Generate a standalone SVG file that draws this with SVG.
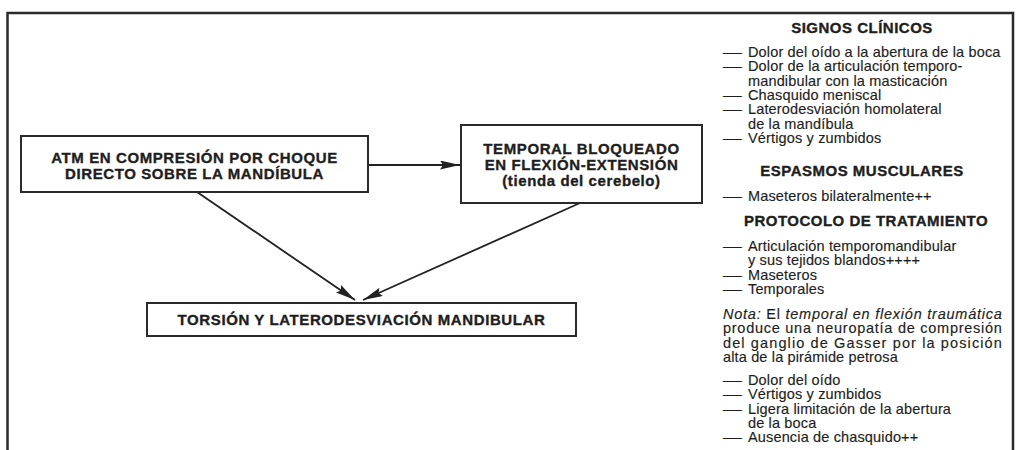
<svg xmlns="http://www.w3.org/2000/svg" width="1020" height="450" viewBox="0 0 1020 450">
<defs>
<style>
.frame{fill:none;stroke:#2a2a2a;stroke-width:2.5}
.box{fill:#fff;stroke:#2a2a2a;stroke-width:2}
.edge{fill:none;stroke:#222;stroke-width:1.8}
.nt{font-family:"Liberation Sans",Arial,Helvetica,sans-serif;font-weight:bold;font-size:15px;letter-spacing:0.6px;fill:#1e1e1e;stroke:#1e1e1e;stroke-width:0.35px;text-anchor:middle}
.hd{font-family:"Liberation Sans",Arial,Helvetica,sans-serif;font-weight:bold;font-size:15px;letter-spacing:0.5px;fill:#1e1e1e;stroke:#1e1e1e;stroke-width:0.35px;text-anchor:middle}
.tx{font-family:"Liberation Sans",Arial,Helvetica,sans-serif;font-size:14.5px;letter-spacing:0.15px;fill:#1e1e1e;stroke:#1e1e1e;stroke-width:0.15px}
.it{font-style:italic}
</style>
<marker id="ah" markerUnits="userSpaceOnUse" markerWidth="22" markerHeight="10" refX="20" refY="4.5" orient="auto">
<path d="M0,0 L20,4.5 L0,9 L3,4.5 Z" fill="#222"/>
</marker>
</defs>
<rect width="1020" height="450" fill="#fff"/>
<path class="frame" d="M7.5,452 V13 H1013 V452"/>

<g id="connectors">
<line class="edge" x1="368" y1="165" x2="460" y2="165" marker-end="url(#ah)"/>
<line class="edge" x1="197" y1="192" x2="355" y2="300" marker-end="url(#ah)"/>
<line class="edge" x1="580" y1="203" x2="363" y2="300" marker-end="url(#ah)"/>
</g>

<g id="node-atm">
<rect class="box" x="21" y="136" width="347" height="56"/>
<text class="nt" x="194.5" y="163">ATM EN COMPRESIÓN POR CHOQUE</text>
<text class="nt" x="194.5" y="179">DIRECTO SOBRE LA MANDÍBULA</text>
</g>

<g id="node-temporal">
<rect class="box" x="461" y="125" width="241" height="78"/>
<text class="nt" x="581.5" y="154">TEMPORAL BLOQUEADO</text>
<text class="nt" x="581.5" y="170">EN FLEXIÓN-EXTENSIÓN</text>
<text class="nt" x="581.5" y="186">(tienda del cerebelo)</text>
</g>

<g id="node-torsion">
<rect class="box" x="147" y="303" width="429" height="33"/>
<text class="nt" x="361.5" y="325">TORSIÓN Y LATERODESVIACIÓN MANDIBULAR</text>
</g>

<g id="side-text">
<text class="hd" x="862" y="33">SIGNOS CLÍNICOS</text>
<text class="tx" x="723" y="57" textLength="19" lengthAdjust="spacingAndGlyphs">—</text><text class="tx" x="748" y="57">Dolor del oído a la abertura de la boca</text>
<text class="tx" x="723" y="71.3" textLength="19" lengthAdjust="spacingAndGlyphs">—</text><text class="tx" x="748" y="71.3">Dolor de la articulación temporo-</text>
<text class="tx" x="748" y="85.6">mandibular con la masticación</text>
<text class="tx" x="723" y="99.9" textLength="19" lengthAdjust="spacingAndGlyphs">—</text><text class="tx" x="748" y="99.9">Chasquido meniscal</text>
<text class="tx" x="723" y="114.2" textLength="19" lengthAdjust="spacingAndGlyphs">—</text><text class="tx" x="748" y="114.2">Laterodesviación homolateral</text>
<text class="tx" x="748" y="128.5">de la mandíbula</text>
<text class="tx" x="723" y="142.8" textLength="19" lengthAdjust="spacingAndGlyphs">—</text><text class="tx" x="748" y="142.8">Vértigos y zumbidos</text>

<text class="hd" x="862" y="176">ESPASMOS MUSCULARES</text>
<text class="tx" x="723" y="201" textLength="19" lengthAdjust="spacingAndGlyphs">—</text><text class="tx" x="748" y="201">Maseteros bilateralmente++</text>

<text class="hd" x="866" y="226">PROTOCOLO DE TRATAMIENTO</text>
<text class="tx" x="723" y="251" textLength="19" lengthAdjust="spacingAndGlyphs">—</text><text class="tx" x="748" y="251">Articulación temporomandibular</text>
<text class="tx" x="748" y="265.3">y sus tejidos blandos++++</text>
<text class="tx" x="723" y="279.6" textLength="19" lengthAdjust="spacingAndGlyphs">—</text><text class="tx" x="748" y="279.6">Maseteros</text>
<text class="tx" x="723" y="293.9" textLength="19" lengthAdjust="spacingAndGlyphs">—</text><text class="tx" x="748" y="293.9">Temporales</text>

<text class="tx" x="723" y="319" textLength="279" lengthAdjust="spacing"><tspan class="it">Nota:</tspan> El <tspan class="it">temporal en flexión traumática</tspan></text>
<text class="tx" x="723" y="333.3" textLength="279" lengthAdjust="spacing">produce una neuropatía de compresión</text>
<text class="tx" x="723" y="347.6" textLength="279" lengthAdjust="spacing">del ganglio de Gasser por la posición</text>
<text class="tx" x="723" y="361.9">alta de la pirámide petrosa</text>

<text class="tx" x="723" y="385" textLength="19" lengthAdjust="spacingAndGlyphs">—</text><text class="tx" x="748" y="385">Dolor del oído</text>
<text class="tx" x="723" y="399.3" textLength="19" lengthAdjust="spacingAndGlyphs">—</text><text class="tx" x="748" y="399.3">Vértigos y zumbidos</text>
<text class="tx" x="723" y="413.6" textLength="19" lengthAdjust="spacingAndGlyphs">—</text><text class="tx" x="748" y="413.6">Ligera limitación de la abertura</text>
<text class="tx" x="748" y="427.9">de la boca</text>
<text class="tx" x="723" y="442.2" textLength="19" lengthAdjust="spacingAndGlyphs">—</text><text class="tx" x="748" y="442.2">Ausencia de chasquido++</text>
</g>
</svg>
